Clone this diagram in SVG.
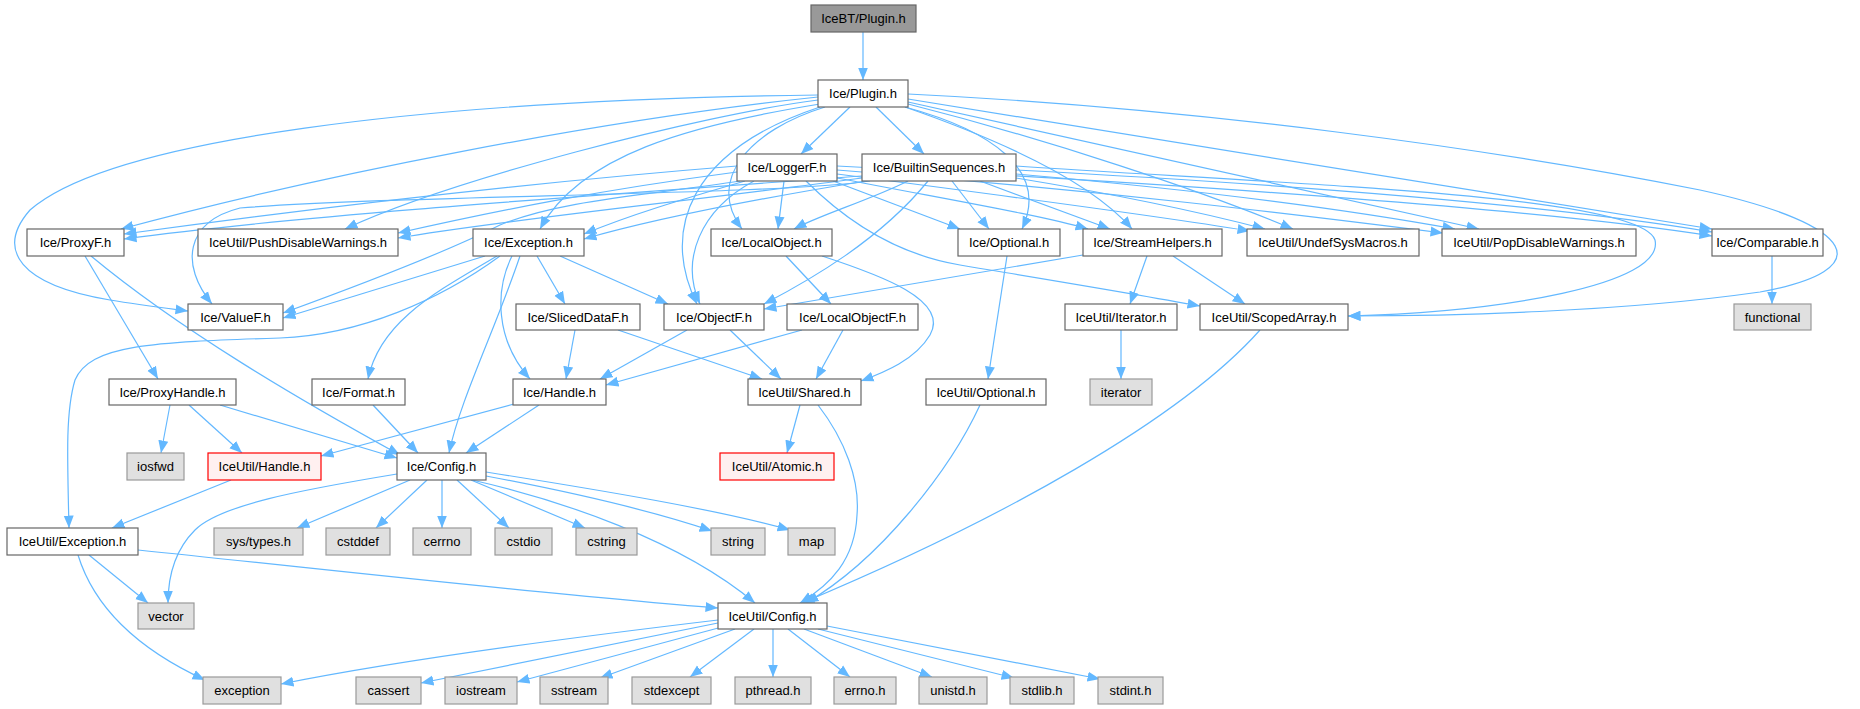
<svg xmlns="http://www.w3.org/2000/svg" width="1860" height="709" viewBox="0 0 1860 709">
<style>
.e{fill:none;stroke:#63b8ff;stroke-width:1.2;marker-end:url(#a)}
.n rect{fill:#ffffff;stroke:#666666;stroke-width:1.2}
.g rect{fill:#e0e0e0;stroke:#999999;stroke-width:1.2}
.r rect{fill:#fff0f0;stroke:#ff0000;stroke-width:1.2}
.root rect{fill:#999999;stroke:#666666;stroke-width:1.2}
text{font-family:"Liberation Sans",Arial,sans-serif;font-size:13px;fill:#000000;text-anchor:middle}
</style>
<defs>
<marker id="a" markerUnits="userSpaceOnUse" markerWidth="14" markerHeight="11" refX="12.5" refY="5.5" orient="auto">
<path d="M0,0.5 L12.5,5.5 L0,10.5 z" fill="#63b8ff"/>
</marker>
</defs>
<rect width="1860" height="709" fill="#ffffff"/>
<g id="edges">
<path class="e" d="M863,32 L863,80"/>
<path class="e" d="M850,107 L801,154"/>
<path class="e" d="M876,107 L924,154"/>
<path class="e" d="M818,97 C600,120 320,175 121,229"/>
<path class="e" d="M818,100 C700,115 450,180 345,229"/>
<path class="e" d="M820,104 C690,125 580,155 540,229"/>
<path class="e" d="M818,95 C420,100 110,140 30,210 C-5,250 20,285 110,300 C140,305 165,308 188,311"/>
<path class="e" d="M825,107 C750,130 705,180 742,229"/>
<path class="e" d="M820,107 C690,150 660,230 697,304"/>
<path class="e" d="M905,107 C990,130 1050,170 1022,229"/>
<path class="e" d="M905,107 C1000,140 1090,180 1132,229"/>
<path class="e" d="M908,104 C1050,140 1200,190 1293,229"/>
<path class="e" d="M908,102 L1479,229"/>
<path class="e" d="M908,99 L1712,229"/>
<path class="e" d="M908,94 C1200,108 1500,150 1700,190 C1860,225 1880,270 1760,292 C1620,312 1450,316 1348,316"/>
<path class="e" d="M737,166 C500,185 300,210 124,234"/>
<path class="e" d="M737,172 C600,190 500,210 398,233"/>
<path class="e" d="M745,181 C680,200 630,215 584,234"/>
<path class="e" d="M740,181 C650,195 560,200 500,225 C450,250 360,285 283,313"/>
<path class="e" d="M784,181 L778,229"/>
<path class="e" d="M754,181 C700,210 680,260 700,304"/>
<path class="e" d="M833,181 L960,229"/>
<path class="e" d="M837,178 C950,200 1040,215 1088,229"/>
<path class="e" d="M837,174 C1000,195 1150,215 1250,231"/>
<path class="e" d="M837,170 C1100,190 1300,215 1443,233"/>
<path class="e" d="M837,166 C1200,185 1550,210 1712,236"/>
<path class="e" d="M806,181 C850,225 900,255 960,265 C1050,280 1130,293 1200,306"/>
<path class="e" d="M862,176 C600,195 300,215 124,239"/>
<path class="e" d="M862,178 C700,200 500,220 398,238"/>
<path class="e" d="M866,181 C750,200 650,220 584,239"/>
<path class="e" d="M870,181 C780,195 400,195 240,208 C185,222 180,265 212,304"/>
<path class="e" d="M908,181 C870,200 820,215 794,229"/>
<path class="e" d="M928,181 C880,240 810,280 764,304"/>
<path class="e" d="M952,181 L989,229"/>
<path class="e" d="M980,181 L1110,229"/>
<path class="e" d="M1016,178 C1120,195 1200,212 1265,229"/>
<path class="e" d="M1016,174 C1200,190 1350,210 1455,229"/>
<path class="e" d="M1016,170 C1300,185 1550,205 1712,232"/>
<path class="e" d="M1016,166 C1300,185 1640,195 1655,240 C1665,285 1500,312 1348,316"/>
<path class="e" d="M85,256 L158,379"/>
<path class="e" d="M91,256 C180,330 300,400 400,455"/>
<path class="e" d="M485,256 L283,318"/>
<path class="e" d="M560,256 L668,304"/>
<path class="e" d="M537,256 L565,304"/>
<path class="e" d="M497,256 C440,290 380,320 368,379"/>
<path class="e" d="M512,256 C495,290 495,340 530,379"/>
<path class="e" d="M520,256 C495,330 460,400 449,453"/>
<path class="e" d="M500,256 C440,300 360,335 280,338 C150,342 90,345 75,380 C66,410 67,450 69,528"/>
<path class="e" d="M786,256 L831,304"/>
<path class="e" d="M822,256 C880,275 950,300 930,335 C915,360 885,372 861,381"/>
<path class="e" d="M1007,256 L988,379"/>
<path class="e" d="M1083,255 L764,309"/>
<path class="e" d="M1147,256 L1130,304"/>
<path class="e" d="M1173,256 L1245,304"/>
<path class="e" d="M1772,256 L1772,304"/>
<path class="e" d="M575,330 L566,379"/>
<path class="e" d="M618,330 L762,379"/>
<path class="e" d="M687,330 L600,379"/>
<path class="e" d="M730,330 L781,379"/>
<path class="e" d="M802,330 L606,385"/>
<path class="e" d="M843,330 L816,379"/>
<path class="e" d="M1121,330 L1121,379"/>
<path class="e" d="M1260,330 C1180,420 1000,520 802,603"/>
<path class="e" d="M170,405 L161,453"/>
<path class="e" d="M189,405 L242,453"/>
<path class="e" d="M220,405 L397,458"/>
<path class="e" d="M373,405 L418,453"/>
<path class="e" d="M514,404 L321,456"/>
<path class="e" d="M539,405 L466,453"/>
<path class="e" d="M800,405 L787,453"/>
<path class="e" d="M818,405 C845,440 860,480 857,515 C855,560 830,585 800,603"/>
<path class="e" d="M980,405 C950,470 880,560 806,603"/>
<path class="e" d="M231,480 L112,528"/>
<path class="e" d="M472,480 C560,500 680,540 755,603"/>
<path class="e" d="M410,480 L297,528"/>
<path class="e" d="M427,480 L376,528"/>
<path class="e" d="M442,480 L442,528"/>
<path class="e" d="M457,480 L509,528"/>
<path class="e" d="M471,480 L585,528"/>
<path class="e" d="M486,476 C560,490 650,510 712,531"/>
<path class="e" d="M486,472 C600,490 720,510 790,530"/>
<path class="e" d="M397,474 C300,490 220,505 195,530 C175,550 168,575 168,603"/>
<path class="e" d="M89,555 L148,603"/>
<path class="e" d="M78,555 C95,610 140,650 205,680"/>
<path class="e" d="M138,550 C350,572 550,595 718,608"/>
<path class="e" d="M718,620 C550,640 400,660 281,684"/>
<path class="e" d="M718,623 L421,683"/>
<path class="e" d="M722,627 L517,682"/>
<path class="e" d="M735,629 L600,678"/>
<path class="e" d="M754,629 L690,677"/>
<path class="e" d="M773,629 L773,677"/>
<path class="e" d="M788,629 L850,677"/>
<path class="e" d="M804,629 L932,677"/>
<path class="e" d="M818,629 L1014,678"/>
<path class="e" d="M827,626 L1100,679"/>
</g>
<g id="n0" class="root"><rect x="811" y="5" width="105" height="27"/><text x="863.5" y="23">IceBT/Plugin.h</text></g>
<g id="n1" class="n"><rect x="818" y="80" width="90" height="27"/><text x="863" y="98">Ice/Plugin.h</text></g>
<g id="n2" class="n"><rect x="737" y="154" width="100" height="27"/><text x="787" y="172">Ice/LoggerF.h</text></g>
<g id="n3" class="n"><rect x="862" y="154" width="154" height="27"/><text x="939" y="172">Ice/BuiltinSequences.h</text></g>
<g id="n4" class="n"><rect x="27" y="229" width="97" height="27"/><text x="75.5" y="247">Ice/ProxyF.h</text></g>
<g id="n5" class="n"><rect x="198" y="229" width="200" height="27"/><text x="298" y="247">IceUtil/PushDisableWarnings.h</text></g>
<g id="n6" class="n"><rect x="473" y="229" width="111" height="27"/><text x="528.5" y="247">Ice/Exception.h</text></g>
<g id="n7" class="n"><rect x="711" y="229" width="121" height="27"/><text x="771.5" y="247">Ice/LocalObject.h</text></g>
<g id="n8" class="n"><rect x="958" y="229" width="102" height="27"/><text x="1009" y="247">Ice/Optional.h</text></g>
<g id="n9" class="n"><rect x="1083" y="229" width="139" height="27"/><text x="1152.5" y="247">Ice/StreamHelpers.h</text></g>
<g id="n10" class="n"><rect x="1247" y="229" width="172" height="27"/><text x="1333" y="247">IceUtil/UndefSysMacros.h</text></g>
<g id="n11" class="n"><rect x="1442" y="229" width="194" height="27"/><text x="1539" y="247">IceUtil/PopDisableWarnings.h</text></g>
<g id="n12" class="n"><rect x="1712" y="229" width="111" height="27"/><text x="1767.5" y="247">Ice/Comparable.h</text></g>
<g id="n13" class="n"><rect x="188" y="304" width="95" height="26"/><text x="235.5" y="322">Ice/ValueF.h</text></g>
<g id="n14" class="n"><rect x="516" y="304" width="124" height="26"/><text x="578" y="322">Ice/SlicedDataF.h</text></g>
<g id="n15" class="n"><rect x="664" y="304" width="100" height="26"/><text x="714" y="322">Ice/ObjectF.h</text></g>
<g id="n16" class="n"><rect x="787" y="304" width="131" height="26"/><text x="852.5" y="322">Ice/LocalObjectF.h</text></g>
<g id="n17" class="n"><rect x="1065" y="304" width="112" height="26"/><text x="1121" y="322">IceUtil/Iterator.h</text></g>
<g id="n18" class="n"><rect x="1200" y="304" width="148" height="26"/><text x="1274" y="322">IceUtil/ScopedArray.h</text></g>
<g id="n19" class="g"><rect x="1734" y="304" width="77" height="26"/><text x="1772.5" y="322">functional</text></g>
<g id="n20" class="n"><rect x="109" y="379" width="127" height="26"/><text x="172.5" y="397">Ice/ProxyHandle.h</text></g>
<g id="n21" class="n"><rect x="312" y="379" width="93" height="26"/><text x="358.5" y="397">Ice/Format.h</text></g>
<g id="n22" class="n"><rect x="513" y="379" width="93" height="26"/><text x="559.5" y="397">Ice/Handle.h</text></g>
<g id="n23" class="n"><rect x="748" y="379" width="113" height="26"/><text x="804.5" y="397">IceUtil/Shared.h</text></g>
<g id="n24" class="n"><rect x="926" y="379" width="120" height="26"/><text x="986" y="397">IceUtil/Optional.h</text></g>
<g id="n25" class="g"><rect x="1090" y="379" width="62" height="26"/><text x="1121" y="397">iterator</text></g>
<g id="n26" class="g"><rect x="127" y="453" width="57" height="27"/><text x="155.5" y="471">iosfwd</text></g>
<g id="n27" class="r"><rect x="208" y="453" width="113" height="27"/><text x="264.5" y="471">IceUtil/Handle.h</text></g>
<g id="n28" class="n"><rect x="397" y="453" width="89" height="27"/><text x="441.5" y="471">Ice/Config.h</text></g>
<g id="n29" class="r"><rect x="720" y="453" width="114" height="27"/><text x="777" y="471">IceUtil/Atomic.h</text></g>
<g id="n30" class="n"><rect x="7" y="528" width="131" height="27"/><text x="72.5" y="546">IceUtil/Exception.h</text></g>
<g id="n31" class="g"><rect x="214" y="528" width="89" height="27"/><text x="258.5" y="546">sys/types.h</text></g>
<g id="n32" class="g"><rect x="326" y="528" width="64" height="27"/><text x="358" y="546">cstddef</text></g>
<g id="n33" class="g"><rect x="413" y="528" width="58" height="27"/><text x="442" y="546">cerrno</text></g>
<g id="n34" class="g"><rect x="495" y="528" width="57" height="27"/><text x="523.5" y="546">cstdio</text></g>
<g id="n35" class="g"><rect x="576" y="528" width="61" height="27"/><text x="606.5" y="546">cstring</text></g>
<g id="n36" class="g"><rect x="711" y="528" width="54" height="27"/><text x="738" y="546">string</text></g>
<g id="n37" class="g"><rect x="788" y="528" width="47" height="27"/><text x="811.5" y="546">map</text></g>
<g id="n38" class="g"><rect x="138" y="603" width="56" height="26"/><text x="166" y="621">vector</text></g>
<g id="n39" class="n"><rect x="718" y="603" width="109" height="26"/><text x="772.5" y="621">IceUtil/Config.h</text></g>
<g id="n40" class="g"><rect x="203" y="677" width="78" height="27"/><text x="242" y="695">exception</text></g>
<g id="n41" class="g"><rect x="356" y="677" width="65" height="27"/><text x="388.5" y="695">cassert</text></g>
<g id="n42" class="g"><rect x="445" y="677" width="72" height="27"/><text x="481" y="695">iostream</text></g>
<g id="n43" class="g"><rect x="540" y="677" width="68" height="27"/><text x="574" y="695">sstream</text></g>
<g id="n44" class="g"><rect x="632" y="677" width="79" height="27"/><text x="671.5" y="695">stdexcept</text></g>
<g id="n45" class="g"><rect x="735" y="677" width="76" height="27"/><text x="773" y="695">pthread.h</text></g>
<g id="n46" class="g"><rect x="834" y="677" width="62" height="27"/><text x="865" y="695">errno.h</text></g>
<g id="n47" class="g"><rect x="919" y="677" width="68" height="27"/><text x="953" y="695">unistd.h</text></g>
<g id="n48" class="g"><rect x="1010" y="677" width="64" height="27"/><text x="1042" y="695">stdlib.h</text></g>
<g id="n49" class="g"><rect x="1098" y="677" width="65" height="27"/><text x="1130.5" y="695">stdint.h</text></g>
</svg>
